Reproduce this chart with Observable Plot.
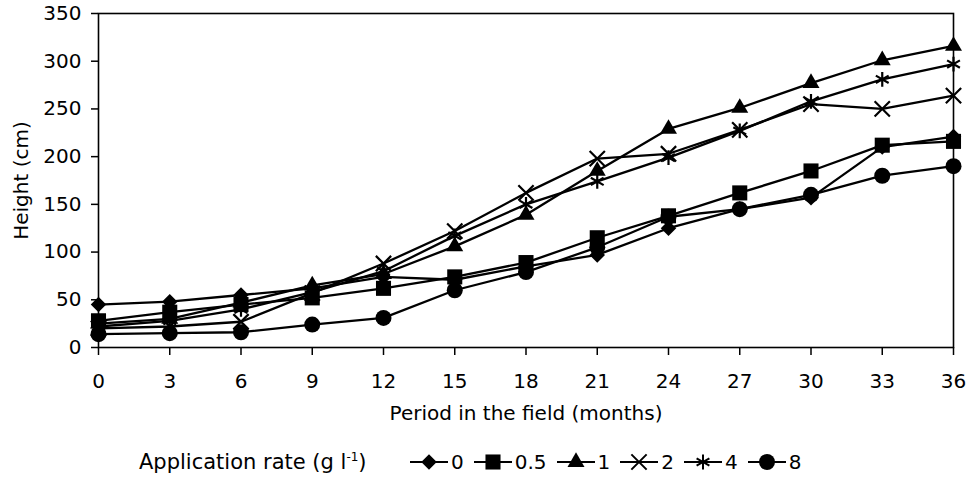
<!DOCTYPE html>
<html>
<head>
<meta charset="utf-8">
<script src="https://cdn.jsdelivr.net/npm/d3@7"></script>
<script src="https://cdn.jsdelivr.net/npm/@observablehq/plot@0.6"></script>
<style>
  html, body { margin: 0; padding: 0; background: #fff; }
  body { width: 972px; height: 491px; overflow: hidden; font-family: "DejaVu Sans", sans-serif; color: #000; }
  #legend { position: relative; width: 972px; height: 51px; font-size: 20px; }
  #legend .title { position: absolute; left: 139px; top: 10px; line-height: 24px; white-space: nowrap; font-size: 21px; }
  #legend .title sup { font-size: 12px; vertical-align: 0; position: relative; top: -8px; }
  #legend .items { position: absolute; left: 410px; top: 10px; height: 24px; display: flex; align-items: center; white-space: nowrap; }
  #legend .item { display: flex; align-items: center; margin-right: 10px; }
  #legend .item span { margin-left: 3px; line-height: 24px; }
</style>
</head>
<body>
<div id="chart"></div>
<div id="legend"></div>
<script>
// ---- data ----
const months = [0, 3, 6, 9, 12, 15, 18, 21, 24, 27, 30, 33, 36];
const rates = ["0", "0.5", "1", "2", "4", "8"];
const h_0   = [45, 48, 55, 62, 74, 71, 85, 97, 125, 145, 157, 210, 221];
const h_0_5 = [28, 37, 45, 52, 62, 74, 89, 115, 138, 162, 185, 212, 216];
const h_1   = [25, 30, 47, 65, 77, 106, 139, 185, 229, 251, 277, 301, 316];
const h_2   = [20, 22, 27, 57, 88, 122, 162, 198, 203, 228, 255, 250, 264];
const h_4   = [22, 28, 40, 58, 80, 117, 150, 174, 199, 227, 258, 281, 297];
const h_8   = [14, 15, 16, 24, 31, 60, 79, 105, 137, 145, 160, 180, 190];
const yTicks = [0, 50, 100, 150, 200, 250, 300, 350];

// ---- styling per series ----
const seriesValues = [h_0, h_0_5, h_1, h_2, h_4, h_8];
const symbolNames = ["diamond2", "square", "triangle", "times", "asterisk", "circle"];
const symbolR = [7, 8.5, 6.3, 7, 7, 8];
const filled = [true, true, true, false, false, true];

const rows = rates.flatMap((rate, s) =>
  months.map((m, i) => ({ month: m, height: seriesValues[s][i], rate }))
);

const dotMarks = rates.map((rate, s) =>
  Plot.dot(rows.filter(d => d.rate === rate), {
    x: "month",
    y: "height",
    symbol: () => symbolNames[s],
    r: symbolR[s],
    fill: filled[s] ? "black" : "none",
    stroke: filled[s] ? "none" : "black",
    strokeWidth: 2.2
  })
);

const chart = Plot.plot({
  width: 972,
  height: 440,
  marginLeft: 98,
  marginRight: 19,
  marginTop: 13,
  marginBottom: 93,
  style: { fontFamily: "DejaVu Sans, sans-serif", fontSize: "20px", color: "black", background: "white" },
  x: { domain: [0, 36] },
  y: { domain: [0, 350] },
  symbol: { type: "identity" },
  marks: [
    Plot.frame({ stroke: "black", strokeWidth: 1.6 }),
    Plot.axisY({
      ticks: yTicks, tickSize: 7, tickPadding: 10, fontSize: 20, strokeWidth: 1.5,
      label: "Height (cm)", labelAnchor: "center", labelOffset: 85, labelArrow: "none"
    }),
    Plot.axisX({
      ticks: months, tickSize: 8, tickPadding: 18, fontSize: 20, strokeWidth: 1.5,
      label: "Period in the field (months)", labelAnchor: "center", labelOffset: 72, labelArrow: "none"
    }),
    Plot.line(rows, { x: "month", y: "height", z: "rate", stroke: "black", strokeWidth: 2.3 }),
    ...dotMarks
  ]
});
document.getElementById("chart").appendChild(chart);

// ---- legend ----
const legend = d3.select("#legend");
legend.append("div").attr("class", "title").html("Application rate (g l<sup>-1</sup>)");
const items = legend.append("div").attr("class", "items");
const d3Symbols = {
  diamond2: d3.symbolDiamond2, square: d3.symbolSquare, triangle: d3.symbolTriangle,
  times: d3.symbolTimes, asterisk: d3.symbolAsterisk, circle: d3.symbolCircle
};
rates.forEach((rate, s) => {
  const it = items.append("div").attr("class", "item");
  const svg = it.append("svg").attr("width", 38).attr("height", 20);
  svg.append("line").attr("x1", 0).attr("x2", 38).attr("y1", 10).attr("y2", 10)
    .attr("stroke", "black").attr("stroke-width", 2);
  svg.append("path")
    .attr("transform", "translate(19,10)")
    .attr("d", d3.symbol(d3Symbols[symbolNames[s]], Math.PI * symbolR[s] * symbolR[s])())
    .attr("fill", filled[s] ? "black" : "none")
    .attr("stroke", filled[s] ? "none" : "black")
    .attr("stroke-width", 2);
  it.append("span").text(rate);
});
</script>
</body>
</html>
